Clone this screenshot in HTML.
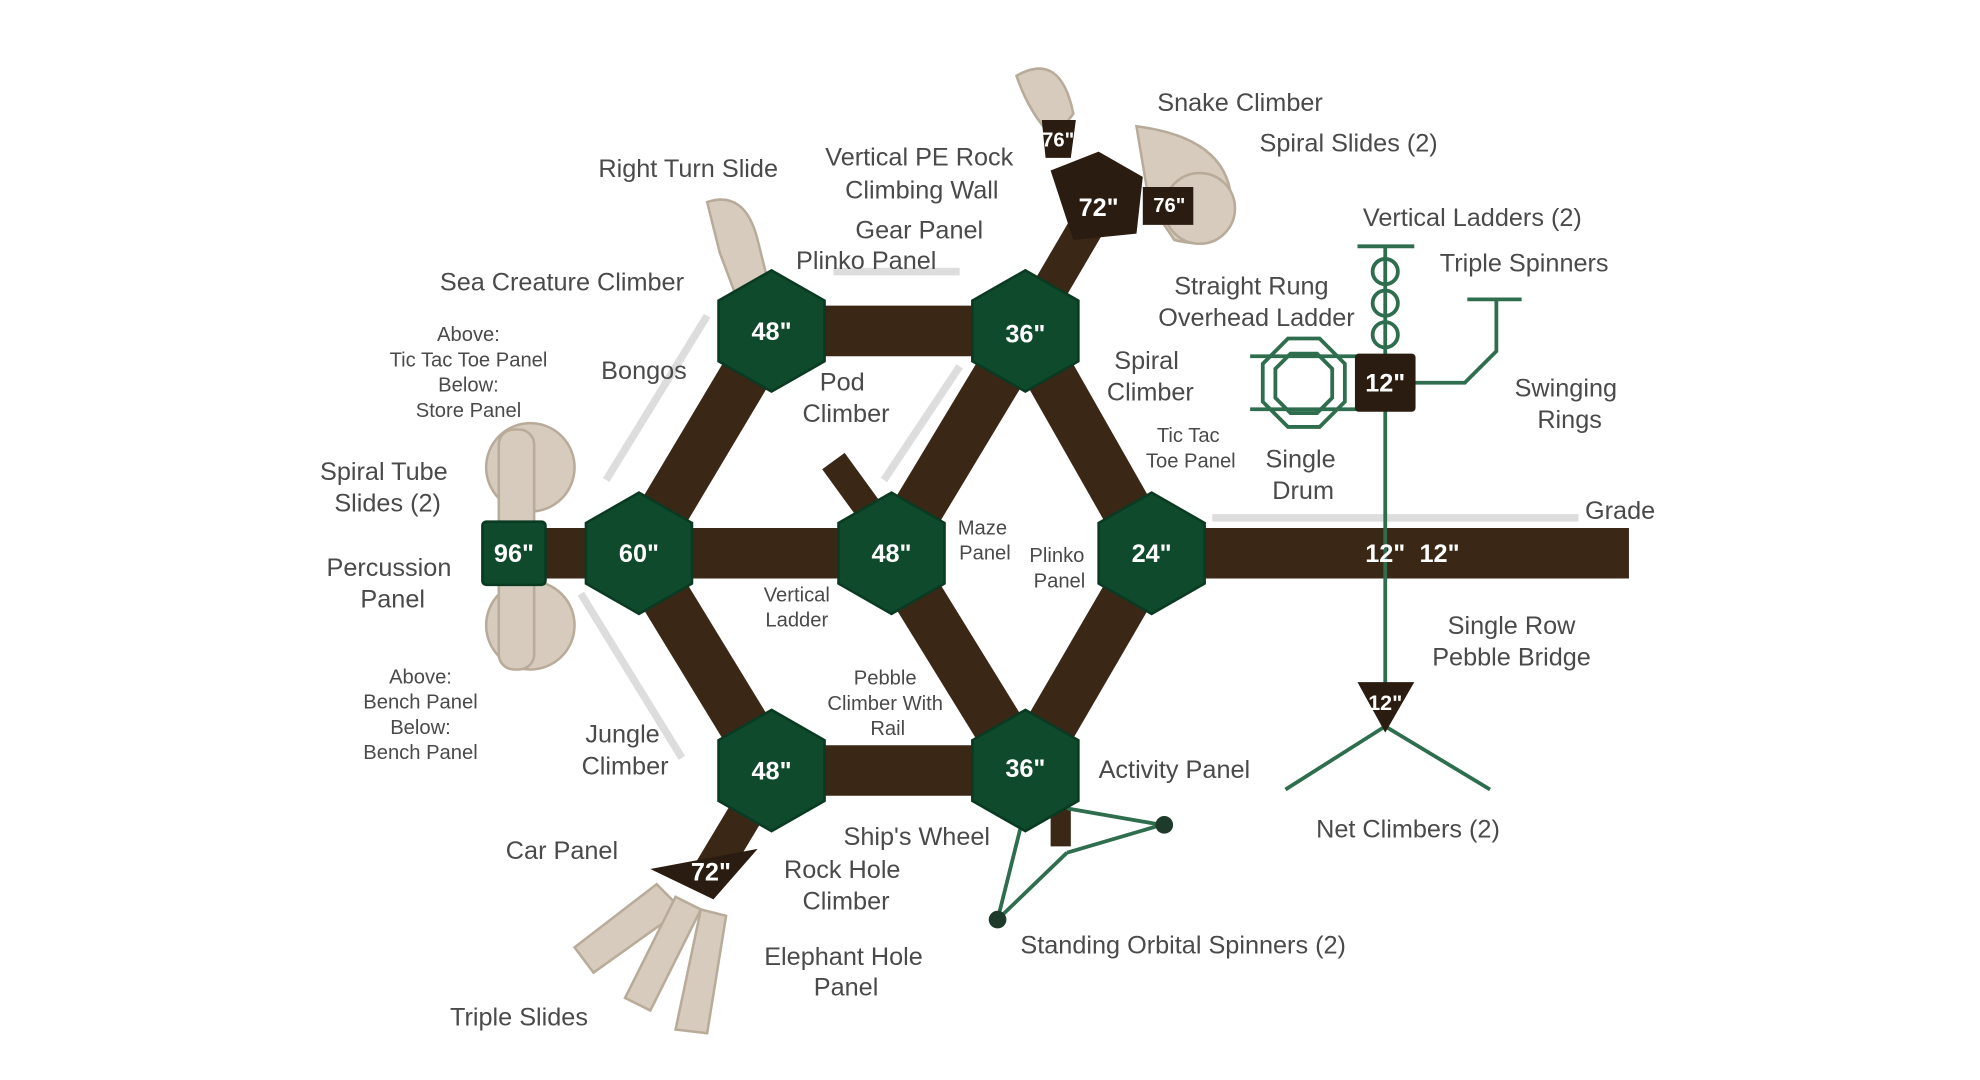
<!DOCTYPE html>
<html><head><meta charset="utf-8"><style>
html,body{margin:0;padding:0;background:#fff;}
svg{display:block;}
text{font-family:"Liberation Sans",sans-serif;fill:#4a4a4a;}
.n{fill:#fff;font-weight:bold;font-size:20px;}
.l{font-size:20px;}
.s{font-size:16px;}
</style></head><body>
<svg width="1980" height="1080" viewBox="0 0 1568 855" preserveAspectRatio="none" xmlns="http://www.w3.org/2000/svg">
<rect width="1568" height="855" fill="#fff"/>
<!-- fences -->
<g stroke="#ddd" stroke-width="6" fill="none">
<path d="M560 250 L480 380"/><path d="M660 215 L760 215"/><path d="M760 290 L700 380"/>
<path d="M460 470 L540 600"/><path d="M960 410 L1250 410"/>
</g>
<!-- slides -->
<g fill="#d6cbbd" stroke="#b8ab9a" stroke-width="2">
<path d="M560 160 Q590 150 600 190 L610 230 L585 240 L570 200 Z"/>
<circle cx="420" cy="370" r="35"/><circle cx="420" cy="495" r="35"/>
<rect x="395" y="340" width="28" height="190" rx="12"/>
<path d="M520 700 L455 750 L470 770 L540 720 Z"/>
<path d="M535 710 L495 790 L515 800 L555 720 Z"/>
<path d="M555 720 L535 815 L560 818 L575 725 Z"/>
<path d="M805 60 Q840 40 850 90 L835 110 Q815 90 805 60 Z"/>
<path d="M900 100 Q980 110 975 170 Q970 200 930 190 L910 160 Z"/>
<circle cx="950" cy="165" r="28"/>
</g>
<!-- beams -->
<g stroke="#3a2716" stroke-width="40" stroke-linecap="butt" fill="none">
<line x1="611" y1="262" x2="812" y2="262"/>
<line x1="611" y1="262" x2="506" y2="438"/>
<line x1="812" y1="262" x2="706" y2="438"/>
<line x1="812" y1="262" x2="912" y2="438"/>
<line x1="506" y1="438" x2="706" y2="438"/>
<line x1="506" y1="438" x2="611" y2="610"/>
<line x1="706" y1="438" x2="812" y2="610"/>
<line x1="912" y1="438" x2="812" y2="610"/>
<line x1="611" y1="610" x2="812" y2="610"/>
<line x1="407" y1="438" x2="506" y2="438"/>
<line x1="912" y1="438" x2="1290" y2="438"/>
<line x1="812" y1="262" x2="870" y2="163" stroke-width="28"/>
<line x1="611" y1="610" x2="563" y2="690" stroke-width="28"/>
<line x1="660" y1="365" x2="700" y2="420" stroke-width="22"/>
<line x1="840" y1="640" x2="840" y2="670" stroke-width="16"/>
</g>
<!-- green lines -->
<g stroke="#2e6e4e" stroke-width="3" fill="none">
<line x1="1097" y1="195" x2="1097" y2="555"/>
<line x1="1075" y1="195" x2="1120" y2="195"/>
<line x1="1162" y1="237" x2="1205" y2="237"/>
<path d="M1120 303 L1160 303 L1185 278 L1185 237"/>
<circle cx="1097" cy="215" r="10"/><circle cx="1097" cy="240" r="10"/><circle cx="1097" cy="265" r="10"/>
<polygon points="1020,268 1045,268 1065,288 1065,318 1045,338 1020,338 1000,318 1000,288"/>
<polygon points="1022,280 1043,280 1055,292 1055,315 1043,327 1022,327 1010,315 1010,292"/>
<line x1="990" y1="282" x2="1075" y2="282"/><line x1="990" y1="324" x2="1075" y2="324"/>
<line x1="1097" y1="575" x2="1018" y2="625"/><line x1="1097" y1="575" x2="1180" y2="625"/>
<path d="M845 675 L920 653 L845 640 M845 675 L790 728 L812 640"/>
</g>
<circle cx="922" cy="653" r="7" fill="#1d3a2a"/><circle cx="790" cy="728" r="7" fill="#1d3a2a"/>
<!-- hex nodes -->
<g fill="#0f4a2d" stroke="#0a3a22" stroke-width="2">
<polygon points="611,214 653,238 653,286 611,310 569,286 569,238"/>
<polygon points="812,214 854,238 854,286 812,310 770,286 770,238"/>
<polygon points="506,390 548,414 548,462 506,486 464,462 464,414"/>
<polygon points="706,390 748,414 748,462 706,486 664,462 664,414"/>
<polygon points="912,390 954,414 954,462 912,486 870,462 870,414"/>
<polygon points="611,562 653,586 653,634 611,658 569,634 569,586"/>
<polygon points="812,562 854,586 854,634 812,658 770,634 770,586"/>
<rect x="382" y="413" width="50" height="50" rx="3"/>
</g>
<g fill="#2a1c10">
<polygon points="832,135 870,120 905,140 900,185 850,190"/>
<polygon points="905,148 945,148 945,178 905,178"/>
<polygon points="825,95 852,95 848,125 828,125"/>
<polygon points="515,688 600,672 565,712"/>
<rect x="1073" y="280" width="48" height="46" rx="3"/>
<polygon points="1075,540 1120,540 1097,580"/>
</g>
<text class="n" x="611" y="269" text-anchor="middle">48"</text>
<text class="n" x="812" y="271" text-anchor="middle">36"</text>
<text class="n" x="506" y="445" text-anchor="middle">60"</text>
<text class="n" x="706" y="445" text-anchor="middle">48"</text>
<text class="n" x="912" y="445" text-anchor="middle">24"</text>
<text class="n" x="611" y="617" text-anchor="middle">48"</text>
<text class="n" x="812" y="615" text-anchor="middle">36"</text>
<text class="n" x="407" y="445" text-anchor="middle">96"</text>
<text class="n" x="870" y="171" text-anchor="middle">72"</text>
<text class="n" x="926" y="168" text-anchor="middle" style="font-size:16px">76"</text>
<text class="n" x="838" y="116" text-anchor="middle" style="font-size:16px">76"</text>
<text class="n" x="563" y="697" text-anchor="middle">72"</text>
<text class="n" x="1097" y="310" text-anchor="middle">12"</text>
<text class="n" x="1097" y="445" text-anchor="middle">12"</text>
<text class="n" x="1140" y="445" text-anchor="middle">12"</text>
<text class="n" x="1097" y="562" text-anchor="middle" style="font-size:17px">12"</text>
<!-- labels -->
<g class="l" text-anchor="middle">
<text class="l" x="982" y="88">Snake Climber</text>
<text class="l" x="1068" y="120">Spiral Slides (2)</text>
<text class="l" x="545" y="140">Right Turn Slide</text>
<text class="l" x="728" y="131">Vertical PE Rock</text>
<text class="l" x="730" y="157">Climbing Wall</text>
<text class="l" x="728" y="189">Gear Panel</text>
<text class="l" x="686" y="213">Plinko Panel</text>
<text class="l" x="445" y="230">Sea Creature Climber</text>
<text class="l" x="1166" y="179">Vertical Ladders (2)</text>
<text class="l" x="1207" y="215">Triple Spinners</text>
<text class="l" x="991" y="233">Straight Rung</text>
<text class="l" x="995" y="258">Overhead Ladder</text>
<text class="l" x="510" y="300">Bongos</text>
<text class="l" x="667" y="309">Pod</text>
<text class="l" x="670" y="334">Climber</text>
<text class="l" x="908" y="292">Spiral</text>
<text class="l" x="911" y="317">Climber</text>
<text class="l" x="1240" y="314">Swinging</text>
<text class="l" x="1243" y="339">Rings</text>
<text class="l" x="1030" y="370">Single</text>
<text class="l" x="1032" y="395">Drum</text>
<text class="l" x="1283" y="411">Grade</text>
<text class="l" x="304" y="380">Spiral Tube</text>
<text class="l" x="307" y="405">Slides (2)</text>
<text class="l" x="308" y="456">Percussion</text>
<text class="l" x="311" y="481">Panel</text>
<text class="l" x="1197" y="502">Single Row</text>
<text class="l" x="1197" y="527">Pebble Bridge</text>
<text class="l" x="493" y="588">Jungle</text>
<text class="l" x="495" y="613">Climber</text>
<text class="l" x="930" y="616">Activity Panel</text>
<text class="l" x="445" y="680">Car Panel</text>
<text class="l" x="726" y="669">Ship's Wheel</text>
<text class="l" x="667" y="695">Rock Hole</text>
<text class="l" x="670" y="720">Climber</text>
<text class="l" x="1115" y="663">Net Climbers (2)</text>
<text class="l" x="937" y="755">Standing Orbital Spinners (2)</text>
<text class="l" x="668" y="764">Elephant Hole</text>
<text class="l" x="670" y="788">Panel</text>
<text class="l" x="411" y="812">Triple Slides</text>
</g>
<g text-anchor="middle">
<text class="s" x="371" y="270">Above:</text>
<text class="s" x="371" y="290">Tic Tac Toe Panel</text>
<text class="s" x="371" y="310">Below:</text>
<text class="s" x="371" y="330">Store Panel</text>
<text class="s" x="333" y="541">Above:</text>
<text class="s" x="333" y="561">Bench Panel</text>
<text class="s" x="333" y="581">Below:</text>
<text class="s" x="333" y="601">Bench Panel</text>
<text class="s" x="941" y="350">Tic Tac</text>
<text class="s" x="943" y="370">Toe Panel</text>
<text class="s" x="778" y="423">Maze</text>
<text class="s" x="780" y="443">Panel</text>
<text class="s" x="837" y="445">Plinko</text>
<text class="s" x="839" y="465">Panel</text>
<text class="s" x="631" y="476">Vertical</text>
<text class="s" x="631" y="496">Ladder</text>
<text class="s" x="701" y="542">Pebble</text>
<text class="s" x="701" y="562">Climber With</text>
<text class="s" x="703" y="582">Rail</text>
</g>
</svg>
</body></html>
